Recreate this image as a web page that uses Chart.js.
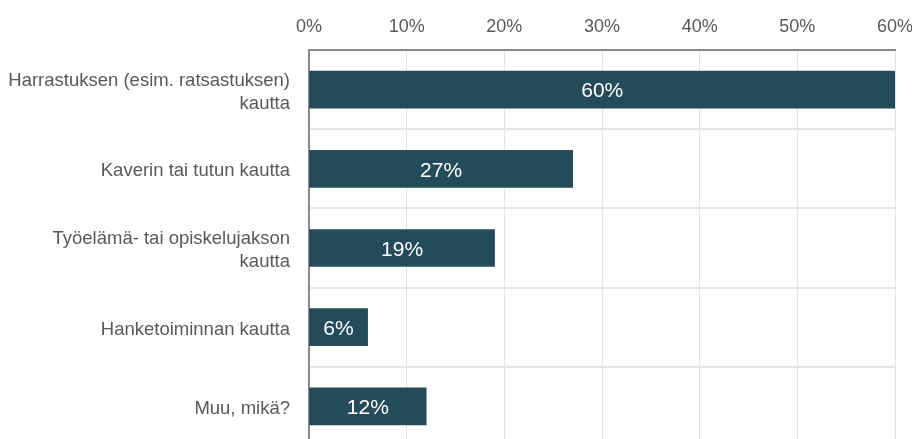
<!DOCTYPE html>
<html>
<head>
<meta charset="utf-8">
<script src="https://cdn.jsdelivr.net/npm/chart.js@4/dist/chart.umd.min.js"></script>
<style>
html,body{margin:0;padding:0;background:#fff;overflow:hidden;}
canvas{display:block;}
</style>
</head>
<body>
<canvas id="c" width="912" height="446"></canvas>
<script>
const categories = [
  ["Harrastuksen (esim. ratsastuksen)", "kautta"],
  "Kaverin tai tutun kautta",
  ["Työelämä- tai opiskelujakson", "kautta"],
  "Hanketoiminnan kautta",
  "Muu, mikä?"
];
const values = [60, 27, 19, 6, 12];
const tickMax = 60;
const tickStep = 10;

const FONT = '"Liberation Sans", Arial, sans-serif';

const labelPlugin = {
  id: 'barLabels',
  afterDatasetsDraw(chart) {
    const ctx = chart.ctx;
    const meta = chart.getDatasetMeta(0);
    ctx.save();
    ctx.fillStyle = '#ffffff';
    ctx.font = '21px ' + FONT;
    ctx.textAlign = 'center';
    ctx.textBaseline = 'middle';
    meta.data.forEach((bar, i) => {
      const x = (bar.x + bar.base) / 2;
      ctx.fillText(values[i] + '%', x, bar.y + 2);
    });
    ctx.restore();
  }
};

new Chart(document.getElementById('c'), {
  type: 'bar',
  data: {
    labels: categories,
    datasets: [{
      data: values,
      backgroundColor: '#244b59',
      borderWidth: 0,
      barThickness: 37
    }]
  },
  options: {
    indexAxis: 'y',
    responsive: false,
    animation: false,
    layout: { padding: { left: 0, right: 17, top: 0, bottom: 0 } },
    plugins: { legend: { display: false }, tooltip: { enabled: false } },
    scales: {
      x: {
        position: 'top',
        min: 0,
        max: tickMax,
        ticks: {
          stepSize: tickStep,
          callback: v => v + '%',
          color: '#595959',
          font: { family: FONT, size: 18 },
          maxRotation: 0,
          padding: 12
        },
        grid: { color: '#e3e3e3', lineWidth: 1, drawTicks: false },
        border: { color: '#8a8a8a', width: 2 },
        afterFit(scale) {
          scale.height = 50;
          scale.paddingLeft = 0; scale.paddingRight = 0;
          scale.paddingTop = 0; scale.paddingBottom = 0;
        }
      },
      y: {
        offset: true,
        ticks: {
          color: '#595959',
          font: { family: FONT, size: 18.5, lineHeight: 1.26 },
          padding: 19,
          labelOffset: 2.5
        },
        grid: { color: '#e6e6e6', lineWidth: 2, offset: true, drawTicks: false },
        border: { color: '#8a8a8a', width: 2 },
        afterFit(scale) {
          scale.width = 309;
          scale.paddingLeft = 0; scale.paddingRight = 0;
          scale.paddingTop = 0; scale.paddingBottom = 0;
        }
      }
    }
  },
  plugins: [labelPlugin]
});
</script>
</body>
</html>
